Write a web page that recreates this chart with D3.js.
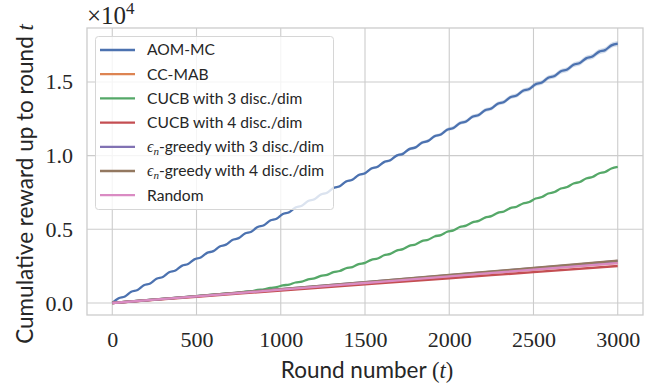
<!DOCTYPE html>
<html>
<head>
<meta charset="utf-8">
<script src="https://cdn.jsdelivr.net/npm/d3@7"></script>
<style>
  body { margin: 0; background: #fff; }
  .tick text { font-family: "Liberation Serif", serif; }
</style>
</head>
<body>
<script>
// rounds sampled every half wiggle
var rounds = [0,37.5,75,112.5,150,187.5,225,262.5,300,337.5,375,412.5,450,487.5,525,562.5,600,637.5,675,712.5,
  750,787.5,825,862.5,900,937.5,975,1012.5,1050,1087.5,1125,1162.5,1200,1237.5,1275,1312.5,1350,1387.5,1425,1462.5,
  1500,1537.5,1575,1612.5,1650,1687.5,1725,1762.5,1800,1837.5,1875,1912.5,1950,1987.5,2025,2062.5,2100,2137.5,2175,2212.5,
  2250,2287.5,2325,2362.5,2400,2437.5,2475,2512.5,2550,2587.5,2625,2662.5,2700,2737.5,2775,2812.5,2850,2887.5,2925,2962.5,3000];

var aomMC = [0,320,440,760,880,1200,1320,1640,1760,2080,2200,2520,2640,2960,3080,3400,3520,3840,3960,4280,
  4400,4720,4840,5160,5280,5600,5720,6040,6160,6480,6600,6920,7040,7360,7480,7800,7920,8240,8360,8680,
  8800,9120,9240,9560,9680,10000,10120,10440,10560,10880,11000,11320,11440,11760,11880,12200,12320,12640,12760,13080,
  13200,13520,13640,13960,14080,14400,14520,14840,14960,15280,15400,15720,15840,16160,16280,16600,16720,17040,17160,17480,17600];

var aomBand = [0,2,5,7,9,11,14,16,18,20,23,25,27,29,32,34,36,38,41,43,
  45,47,50,52,54,56,59,61,63,65,68,70,72,74,77,79,81,83,86,88,
  90,92,95,97,99,101,104,106,108,110,113,115,117,119,122,124,126,128,131,133,
  135,137,140,142,144,146,149,151,153,155,158,160,162,164,167,169,171,173,176,178,180];

var cucb3 = [0,35,70,105,140,175,210,245,280,315,350,385,420,455,490,525,560,595,630,665,
  700,770,800,884,920,1025,1070,1196,1250,1390,1450,1604,1670,1838,1910,2092,2170,2359,2440,2636,
  2720,2930,3020,3237,3330,3554,3650,3874,3970,4194,4290,4514,4610,4834,4930,5154,5250,5474,5570,5794,
  5890,6114,6210,6434,6530,6754,6850,7088,7190,7428,7530,7768,7870,8108,8210,8448,8550,8788,8890,9128,9230];

// the flat ones
var roundsCoarse = [0, 500, 1000, 1500, 2000, 2500, 3000];
var ccMAB  = [0, 455, 905, 1360, 1815, 2265, 2720];
var cucb4  = [0, 420, 840, 1260, 1680, 2090, 2510];
var eps3   = [0, 465, 935, 1410, 1890, 2370, 2850];
var eps4   = [0, 470, 940, 1420, 1900, 2380, 2870];
var random = [0, 450, 900, 1355, 1810, 2260, 2710];

var xTicks = [0, 500, 1000, 1500, 2000, 2500, 3000];
var yTicks = [0, 5000, 10000, 15000];

var names = ["AOM-MC", "CC-MAB", "CUCB with 3 disc./dim", "CUCB with 4 disc./dim",
  "eps3", "eps4", "Random"];
var colors = ["#4c72b0", "#dd8452", "#55a868", "#c44e52", "#8172b3", "#937860", "#da8bc3"];

var W = 662, H = 387;
var pl = 87, pr = 643, pt = 28, pb = 315;

var svg = d3.select("body").append("svg")
    .attr("width", W)
    .attr("height", H);

var x = d3.scaleLinear().domain([-150, 3150]).range([pl, pr]);
var y = d3.scaleLinear().domain([-815, 18660]).range([pb, pt]);

// grid
svg.append("g").selectAll("line").data(xTicks).enter().append("line")
    .attr("x1", function(d) { return x(d); }).attr("x2", function(d) { return x(d); })
    .attr("y1", pt).attr("y2", pb)
    .style("stroke", "#cccccc").style("stroke-width", 1.1);
svg.append("g").selectAll("line").data(yTicks).enter().append("line")
    .attr("y1", function(d) { return y(d); }).attr("y2", function(d) { return y(d); })
    .attr("x1", pl).attr("x2", pr)
    .style("stroke", "#cccccc").style("stroke-width", 1.1);

var xAxis = svg.append("g")
    .attr("transform", "translate(0," + pb + ")")
    .call(d3.axisBottom(x).tickValues(xTicks).tickSize(0).tickPadding(16).tickFormat(d3.format("d")));
xAxis.select(".domain").remove();
xAxis.selectAll("text").style("font-size", "22px").style("fill", "#262626");

var yAxis = svg.append("g")
    .attr("transform", "translate(" + pl + ",0)")
    .call(d3.axisLeft(y).tickValues(yTicks).tickSize(0).tickPadding(14)
      .tickFormat(function(d) { return (d / 1e4).toFixed(1); }));
yAxis.select(".domain").remove();
yAxis.selectAll("text").style("font-size", "22px").style("fill", "#262626");

// data
var wavy = [aomMC, null, cucb3];
var flat = [null, ccMAB, null, cucb4, eps3, eps4, random];

var area = d3.area()
    .x(function(d) { return x(d[0]); })
    .y0(function(d) { return y(d[1] - d[2]); })
    .y1(function(d) { return y(d[1] + d[2]); })
    .curve(d3.curveMonotoneX);

svg.append("path")
    .datum(rounds.map(function(r, i) { return [r, aomMC[i], aomBand[i]]; }))
    .attr("d", area)
    .style("fill", colors[0]).style("opacity", 0.25);

var line = d3.line()
    .x(function(d) { return x(d[0]); })
    .y(function(d) { return y(d[1]); })
    .curve(d3.curveMonotoneX);

for (var k = 0; k < names.length; k++) {
  var pts;
  if (wavy[k]) pts = rounds.map(function(r, i) { return [r, wavy[k][i]]; });
  else pts = roundsCoarse.map(function(r, i) { return [r, flat[k][i]]; });
  svg.append("path")
      .datum(pts)
      .attr("d", line)
      .style("fill", "none")
      .style("stroke", colors[k])
      .style("stroke-width", 2.3);
}

// frame
svg.append("rect")
    .attr("x", pl).attr("y", pt)
    .attr("width", pr - pl).attr("height", pb - pt)
    .style("fill", "none").style("stroke", "#cccccc").style("stroke-width", 1.3);

// offset text
var off = svg.append("text")
    .attr("x", 87).attr("y", 24)
    .style("font-family", "Liberation Serif, serif")
    .style("font-size", "25px").style("fill", "#262626");
off.append("tspan").text("\u00d710");
off.append("tspan").attr("dy", -10).style("font-size", "17px").text("4");

// axis labels
var xl = svg.append("text")
    .attr("x", (pl + pr) / 2 + 2).attr("y", 378)
    .style("text-anchor", "middle")
    .style("font-family", "Lato, sans-serif")
    .style("font-size", "22.5px").style("fill", "#262626");
xl.append("tspan").text("Round number ");
xl.append("tspan").style("font-family", "Liberation Serif, serif").text("(");
xl.append("tspan").style("font-family", "Liberation Serif, serif").style("font-style", "italic").text("t");
xl.append("tspan").style("font-family", "Liberation Serif, serif").text(")");

var yl = svg.append("text")
    .attr("transform", "translate(33," + 184 + ") rotate(-90)")
    .style("text-anchor", "middle")
    .style("font-family", "Lato, sans-serif")
    .style("font-size", "22.5px").style("fill", "#262626");
yl.append("tspan").text("Cumulative reward up to round ");
yl.append("tspan").style("font-family", "Liberation Serif, serif").style("font-style", "italic").text("t");

// legend
var lg = svg.append("g");
lg.append("rect")
    .attr("x", 95.5).attr("y", 36.5).attr("width", 238).attr("height", 173)
    .attr("rx", 3)
    .style("fill", "white").style("fill-opacity", 0.8)
    .style("stroke", "#d6d6d6").style("stroke-width", 1);

var item = lg.selectAll(".legend")
    .data(names)
  .enter().append("g")
    .attr("class", "legend")
    .attr("transform", function(d, i) { return "translate(0," + (50 + i * 24.2) + ")"; });

item.append("line")
    .attr("x1", 100).attr("x2", 135)
    .style("stroke", function(d, i) { return colors[i]; })
    .style("stroke-width", 2.3);

item.each(function(d) {
  var t = d3.select(this).append("text")
      .attr("x", 147).attr("dy", "0.35em")
      .style("font-family", "Lato, sans-serif")
      .style("font-size", "15.6px").style("fill", "#262626");
  if (d == "eps3" || d == "eps4") {
    t.append("tspan").style("font-family", "Liberation Serif, serif").style("font-style", "italic")
      .style("font-size", "16px").text("\u03f5");
    t.append("tspan").attr("dy", 3).style("font-family", "Liberation Serif, serif").style("font-style", "italic")
      .style("font-size", "11px").text("n");
    t.append("tspan").attr("dy", -3).text("-greedy with " + (d == "eps3" ? 3 : 4) + " disc./dim");
  } else {
    t.text(d);
  }
});
</script>
</body>
</html>
